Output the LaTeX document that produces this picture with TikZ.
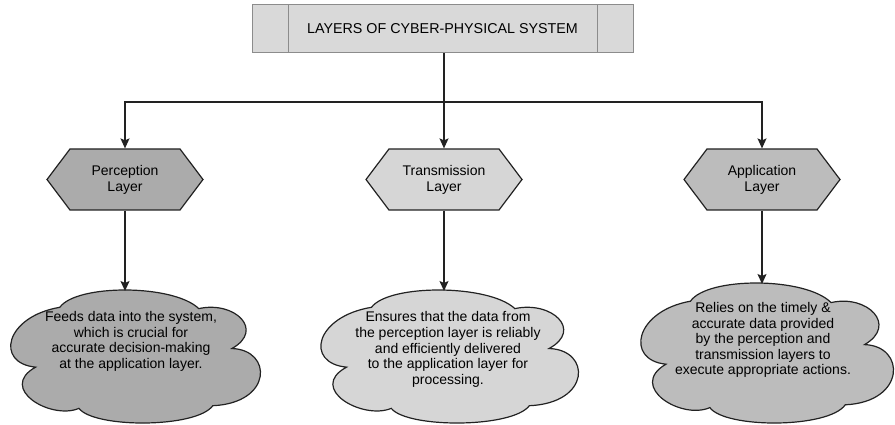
\documentclass[tikz,border=0pt]{standalone}
\usepackage{fontspec}
\setmainfont{Liberation Sans}
\usetikzlibrary{shapes.symbols,arrows.meta,calc}
\definecolor{linec}{HTML}{222222}
\definecolor{titlefill}{HTML}{D9D9D9}
\definecolor{titleline}{HTML}{8C8C8C}
\definecolor{darkfill}{HTML}{ABABAB}
\definecolor{lightfill}{HTML}{D6D6D6}
\definecolor{midfill}{HTML}{BCBCBC}
\tikzset{
  titlebox/.style={draw=titleline, line width=1pt, fill=titlefill, minimum width=381pt, minimum height=48pt, inner sep=0pt, font=\fontsize{14.3}{16}\selectfont},
  hexbox/.style={signal, signal to=west and east, signal pointer angle=106, draw=linec, line width=1.2pt, minimum width=156pt, minimum height=61pt, inner sep=0pt, align=center, font=\fontsize{14}{16}\selectfont},
  cloudline/.style={draw=linec, line width=1.2pt},
  bodytext/.style={align=center, font=\fontsize{14}{15.6}\selectfont, inner sep=0pt},
  conn/.style={draw=linec, line width=1.3pt},
  arrowc/.style={conn, -{Stealth[length=10pt, width=9pt, inset=2pt]}},
  puffcloud/.pic={
    \path[pic actions] (0.215,0.13)
      .. controls (0.28,-0.045) and (0.66,-0.045) .. (0.76,0.14)
      .. controls (0.9,0.08) and (1.02,0.3) .. (0.89,0.44)
      .. controls (1.05,0.45) and (1.05,0.85) .. (0.815,0.87)
      .. controls (0.75,1.04) and (0.35,1.04) .. (0.29,0.89)
      .. controls (0.18,0.98) and (-0.03,0.74) .. (0.12,0.58)
      .. controls (-0.04,0.55) and (0.0,0.2) .. (0.215,0.13) -- cycle;
  }
}
\begin{document}
\begin{tikzpicture}[x=1pt, y=-1pt]
\useasboundingbox (0,0) rectangle (895,425);
% title
\node[titlebox] (t) at (442.5,29) {LAYERS OF CYBER-PHYSICAL SYSTEM};
\draw[titleline, line width=1pt] ($(t.north west)+(37,0)$) -- ($(t.south west)+(37,0)$);
\draw[titleline, line width=1pt] ($(t.north east)+(-36,0)$) -- ($(t.south east)+(-36,0)$);
% layers
\node[hexbox, fill=darkfill] (pe) at (125,179.5) {Perception\\Layer};
\node[hexbox, fill=lightfill] (tr) at (444,179.5) {Transmission\\Layer};
\node[hexbox, fill=midfill] (ap) at (762,179.5) {Application\\Layer};
% clouds
\coordinate (pco) at (5,290);
\coordinate (tco) at (315,290);
\coordinate (aco) at (635,283);
\pic[cloudline, fill=darkfill, x=255pt, y=-133pt] at (pco) {puffcloud};
\pic[cloudline, fill=lightfill, x=263pt, y=-133pt] at (tco) {puffcloud};
\pic[cloudline, fill=midfill, x=258pt, y=-140pt] at (aco) {puffcloud};
\node[bodytext] (pt) at (131,341.5) {Feeds data into the system,\\which is crucial for\\accurate decision-making\\at the application layer.};
\node[bodytext] (tt) at (448,349.5) {Ensures that the data from\\the perception layer is reliably\\and efficiently delivered\\to the application layer for\\processing.};
\node[bodytext] (at) at (763,340) {Relies on the timely \&\\accurate data provided\\by the perception and\\transmission layers to\\execute appropriate actions.};
\coordinate (pctop) at (125,291);
\coordinate (tctop) at (444,291);
\coordinate (actop) at (762,284);
% connectors
\coordinate (j) at (444,102);
\draw[conn] (tr.north |- t.south) -- (j);
\draw[arrowc] (j) -- (tr.north);
\draw[arrowc] (j) -| (pe.north);
\draw[arrowc] (j) -| (ap.north);
\draw[arrowc] (pe.south) -- (pctop);
\draw[arrowc] (tr.south) -- (tctop);
\draw[arrowc] (ap.south) -- (actop);
\end{tikzpicture}
\end{document}
